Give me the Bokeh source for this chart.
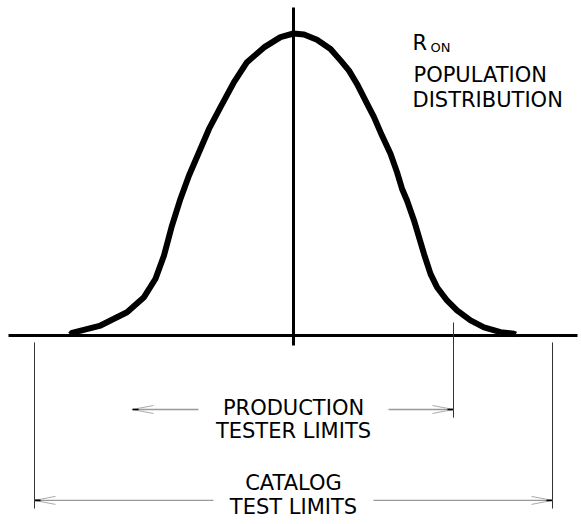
from bokeh.plotting import figure
from bokeh.models import Range1d
from bokeh.core.properties import value
from bokeh.embed import file_html
from bokeh.resources import INLINE

# ---- data (x in spread units, 0 = nominal; y = fraction of peak) ----
curve_x = [-4.46, -4.43, -3.86, -3.33, -2.99, -2.76, -2.59, -2.43, -2.26, -2.09,
           -1.89, -1.69, -1.46, -1.19, -0.93, -0.59, -0.26, 0.00,
           0.21, 0.47, 0.74, 0.94, 1.11, 1.27, 1.44, 1.61, 1.77, 1.94,
           2.07, 2.17, 2.27, 2.41, 2.51, 2.61, 2.74, 2.87, 3.07, 3.27,
           3.54, 3.81, 4.14, 4.41, 4.44]
curve_y = [0.003, 0.009, 0.033, 0.077, 0.127, 0.188, 0.265, 0.364, 0.453, 0.530,
           0.607, 0.684, 0.756, 0.839, 0.905, 0.954, 0.988, 1.000,
           0.997, 0.979, 0.949, 0.911, 0.877, 0.833, 0.778, 0.723, 0.662, 0.602,
           0.541, 0.486, 0.447, 0.381, 0.326, 0.270, 0.204, 0.160, 0.116, 0.083,
           0.050, 0.027, 0.011, 0.006, 0.003]

production_limits = [-3.22, 3.20]
catalog_limits = [-5.18, 5.18]

production_label = ["PRODUCTION", "TESTER LIMITS"]
catalog_label = ["CATALOG", "TEST LIMITS"]
dist_label = ["POPULATION", "DISTRIBUTION"]

# ---- layout constants ----
W, H = 581, 524
X0, X1 = -5.86, 5.76
Y0, Y1 = -0.6258, 1.1093
PX = (X1 - X0) / W   # data units per pixel (x)
PY = (Y1 - Y0) / H   # data units per pixel (y)

p = figure(width=W, height=H, x_range=Range1d(X0, X1), y_range=Range1d(Y0, Y1),
           output_backend="svg", toolbar_location=None,
           x_axis_type=None, y_axis_type=None, min_border=0)
p.grid.visible = False
p.outline_line_color = None
p.background_fill_color = "white"
p.border_fill_color = "white"

# baseline and centre line
p.line([-5.70, 5.68], [0, 0], line_color="black", line_width=3)
p.line([0, 0], [-0.033, 1.086], line_color="black", line_width=3)

# population curve
p.line(curve_x, curve_y, line_color="black", line_width=6, line_join="round")

# limit extension lines
p.segment(x0=catalog_limits, y0=[-0.023, -0.023], x1=catalog_limits, y1=[-0.573, -0.573],
          line_color="#333333", line_width=1)
p.segment(x0=[production_limits[1]], y0=[0.043], x1=[production_limits[1]], y1=[-0.272],
          line_color="#333333", line_width=1)

def dim_arrows(limits, y, gap):
    lo, hi = limits
    p.segment(x0=[lo, gap], y0=[y, y], x1=[-gap, hi], y1=[y, y],
              line_color="#999999", line_width=1.3)
    hl, hw = 21 * PX, 4 * PY
    xs0, ys0, xs1, ys1 = [], [], [], []
    for tip, d in ((lo, 1), (hi, -1)):
        for s in (1, -1):
            xs0.append(tip); ys0.append(y)
            xs1.append(tip + d * hl); ys1.append(y + s * hw)
    p.segment(x0=xs0, y0=ys0, x1=xs1, y1=ys1, line_color="#aaaaaa", line_width=1)
    p.segment(x0=[lo, hi], y0=[y, y], x1=[lo + 6 * PX, hi - 6 * PX], y1=[y, y],
              line_color="black", line_width=1.6)

dim_arrows(production_limits, -0.245, 1.9)
dim_arrows(catalog_limits, -0.546, 1.6)

font = value("DejaVu Sans")
p.text(x=[0, 0], y=[-0.2387, -0.3146], text=production_label, text_font=font,
       text_font_size="21px", text_align="center", text_baseline="alphabetic",
       text_color="black")
p.text(x=[0, 0], y=[-0.4868, -0.5695], text=catalog_label, text_font=font,
       text_font_size="21px", text_align="center", text_baseline="alphabetic",
       text_color="black")

p.text(x=[2.38], y=[0.967], text=["R"], text_font=font, text_font_size="21px",
       text_align="left", text_baseline="alphabetic", text_color="black")
p.text(x=[2.74], y=[0.954], text=["ON"], text_font=font, text_font_size="13px",
       text_align="left", text_baseline="alphabetic", text_color="black")
p.text(x=[2.40, 2.38], y=[0.861, 0.781], text=dist_label, text_font=font,
       text_font_size="21px", text_align="left", text_baseline="alphabetic",
       text_color="black")

open("out.html", "w").write(file_html(p, INLINE))
